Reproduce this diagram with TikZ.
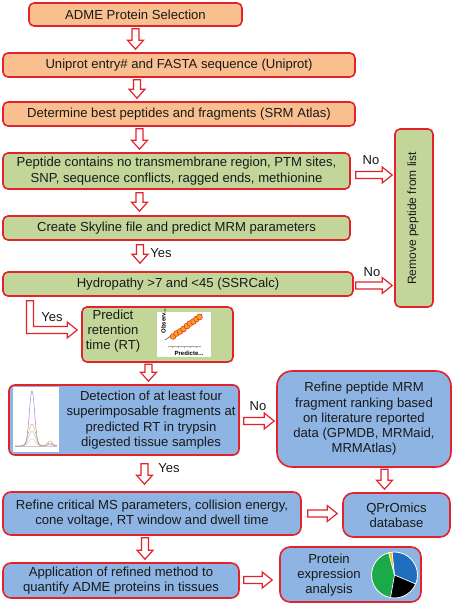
\documentclass[tikz,border=0pt]{standalone}
\usepackage{fontspec}
\setmainfont{Liberation Sans}
\usetikzlibrary{calc}
\definecolor{bred}{HTML}{E3232B}
\definecolor{borange}{HTML}{F9BF8F}
\definecolor{bgreen}{HTML}{C2D69A}
\definecolor{bblue}{HTML}{8DB4E2}
\definecolor{pieblue}{HTML}{1F6EC0}
\definecolor{piegreen}{HTML}{1AAA4A}
\definecolor{pieyellow}{HTML}{F5C518}
\definecolor{dotorange}{HTML}{F7A21B}
\tikzset{
  box/.style={draw=bred, line width=1.6pt, rounded corners=5pt, inner sep=0pt,
    font=\fontsize{13.1}{15.3}\selectfont, align=center, text=black!90},
  obox/.style={box, fill=borange},
  gbox/.style={box, fill=bgreen},
  bbox/.style={box, fill=bblue, rounded corners=8pt},
  txt/.style={font=\fontsize{13.1}{15.3}\selectfont, align=center, inner sep=0pt, text=black!90},
  lab/.style={font=\fontsize{13}{15}\selectfont, inner sep=0pt, text=black!90},
  harrow/.style={draw=bred, fill=white, line width=1.2pt, line join=miter},
  imgbox/.style={fill=white, inner sep=0pt},
}
% down block arrow: x, from node, to node, gap1, gap2
\newcommand\darrow[5]{%
  \path[harrow] let \p1=(#2.south), \p2=(#3.north), \p3=(#1,0) in
  (\x3-3.5pt,\y1-#4pt) -- (\x3+3.5pt,\y1-#4pt) -- (\x3+3.5pt,\y2+#5pt+9pt)
  -- (\x3+8pt,\y2+#5pt+9pt) -- (\x3,\y2+#5pt) -- (\x3-8pt,\y2+#5pt+9pt)
  -- (\x3-3.5pt,\y2+#5pt+9pt) -- cycle;}
% right block arrow: y, from node, to node, gap1, gap2
\newcommand\rarrow[5]{%
  \path[harrow] let \p1=(#2.east), \p2=(#3.west), \p3=(0,#1) in
  (\x1+#4pt,\y3+3.5pt) -- (\x2-#5pt-10pt,\y3+3.5pt) -- (\x2-#5pt-10pt,\y3+8pt)
  -- (\x2-#5pt,\y3) -- (\x2-#5pt-10pt,\y3-8pt) -- (\x2-#5pt-10pt,\y3-3.5pt)
  -- (\x1+#4pt,\y3-3.5pt) -- cycle;}
\begin{document}
\begin{tikzpicture}[x=1pt,y=-1pt]
\useasboundingbox[fill=white] (0,0) rectangle (452,605);

% boxes
\node[obox, minimum width=213pt, minimum height=23pt] (b1) at (135.5,14.5) {ADME Protein Selection};
\node[obox, minimum width=352pt, minimum height=24pt] (b2) at (179,65) {Uniprot entry\# and FASTA sequence (Uniprot)};
\node[obox, minimum width=352pt, minimum height=24pt] (b3) at (179,114) {Determine best peptides and fragments (SRM Atlas)};
\node[gbox, minimum width=347pt, minimum height=36pt] (b4) at (176.5,171) {Peptide contains no transmembrane region, PTM sites,\\SNP, sequence conflicts, ragged ends, methionine};
\node[gbox, minimum width=347pt, minimum height=24pt] (b5) at (176.5,228) {Create Skyline file and predict MRM parameters};
\node[gbox, minimum width=350pt, minimum height=24pt] (b6) at (178,284) {Hydropathy >7 and <45 (SSRCalc)};
\node[gbox, minimum width=38pt, minimum height=178pt] (rem) at (414,218) {};
\node[txt, rotate=90, font=\fontsize{12}{14}\selectfont] (remt) at (413,218.5) {Remove peptide from list};

\node[gbox, minimum width=151pt, minimum height=55pt] (b7) at (157.5,334.5) {};
\node[txt] (b7t) at (113,331) {Predict\\retention\\time (RT)};
\node[imgbox, minimum width=54pt, minimum height=45pt] (img1) at (184,334.5) {};
\draw[black!75, line width=0.5pt] (165,340) -- (202,314);
\foreach \px/\py in {173/336.5, 176.5/333.5, 180/331.5, 183.5/329, 187/326, 190/323.5, 193.5/321.5, 196.5/319, 199.5/317} {
  \fill[dotorange, draw=bred, line width=0.5pt] (\px,\py) circle (2.9pt);
}
\draw[gray!70, line width=0.4pt] (168,346) -- (201,346);
\foreach \tx in {172,178,184,190,196} { \draw[gray!70, line width=0.3pt] (\tx,346) -- (\tx,347.5); }
\node[rotate=90, inner sep=0pt, font=\bfseries\fontsize{6}{6}\selectfont] (obs) at (163.5,321) {Observ...};
\node[inner sep=0pt, font=\bfseries\fontsize{6}{6}\selectfont] (pred) at (189,353) {Predicte...};

\node[bbox, rounded corners=6pt, minimum width=230pt, minimum height=70pt] (b8) at (124,420) {};
\node[txt] (b8t) at (151,420) {Detection of at least four\\superimposable fragments at\\predicted RT in trypsin\\digested tissue samples};
\node[imgbox, minimum width=46pt, minimum height=65pt] (img2) at (36,419.5) {};
\draw[gray!40, line width=0.4pt] (15,446) -- (57,446);
\draw[red!25, line width=0.4pt] plot[domain=15:57, samples=70] (\x, {446 - 7*exp(-((\x-32)^2)/20)});
\draw[gray!60, line width=0.4pt] plot[domain=15:57, samples=70] (\x, {446 - 15*exp(-((\x-32)^2)/22) - 3*exp(-((\x-50)^2)/12)});
\draw[brown!45!yellow!80!gray, line width=0.4pt] plot[domain=15:57, samples=70] (\x, {446 - 22*exp(-((\x-32)^2)/24) - 5*exp(-((\x-50)^2)/14)});
\draw[blue!35!violet!50, line width=0.5pt] plot[domain=15:57, samples=90] (\x, {446 - 55*exp(-((\x-32)^2)/14) - 2*exp(-((\x-50)^2)/12)});

\node[bbox, rounded corners=15pt, minimum width=174pt, minimum height=96pt] (b9) at (364,419) {Refine peptide MRM\\fragment ranking based\\on literature reported\\data (GPMDB, MRMaid,\\MRMAtlas)};
\node[bbox, minimum width=298pt, minimum height=43pt] (b10) at (152,513.5) {Refine critical MS parameters, collision energy,\\cone voltage, RT window and dwell time};
\node[bbox, rounded corners=10pt, minimum width=107pt, minimum height=44pt] (b11) at (396.5,515) {QPrOmics\\database};
\node[bbox, minimum width=236pt, minimum height=35pt] (b12) at (121,580.5) {Application of refined method to\\quantify ADME proteins in tissues};
\node[bbox, rounded corners=10pt, minimum width=141pt, minimum height=55pt] (b13) at (350.5,574.5) {};
\node[txt] (b13t) at (329,575) {Protein\\expression\\analysis};
\begin{scope}[shift={(394.5,575)}, yscale=-1]
  \fill[pieblue] (0,0) -- (-23:23) arc[start angle=-23, end angle=96, radius=23] -- cycle;
  \fill[pieyellow] (0,0) -- (96:23) arc[start angle=96, end angle=105, radius=23] -- cycle;
  \fill[piegreen] (0,0) -- (105:23) arc[start angle=105, end angle=260, radius=23] -- cycle;
  \fill[black] (0,0) -- (260:23) arc[start angle=260, end angle=337, radius=23] -- cycle;
  \draw[white, line width=0.8pt] (0,0) circle (23);
  \foreach \a in {-23,96,105,260} { \draw[white, line width=0.7pt] (0,0) -- (\a:23); }
\end{scope}

% arrows
\darrow{135.5}{b1}{b2}{2}{3}
\darrow{137}{b2}{b3}{2}{3}
\darrow{139.5}{b3}{b4}{2}{3}
\darrow{139.5}{b4}{b5}{3}{4}
\darrow{140}{b5}{b6}{4}{8}
\darrow{148.5}{b7}{b8}{1.5}{3}
\darrow{144.5}{b8}{b10}{8}{7}
\darrow{384.5}{b9}{b11}{1.5}{3}
\darrow{145}{b10}{b12}{2}{3}
\rarrow{175}{b4}{rem}{5}{2}
\rarrow{285.5}{b6}{rem}{2}{2}
\rarrow{421}{b8}{b9}{4}{2}
\rarrow{513.5}{b10}{b11}{6}{5}
\rarrow{580}{b12}{b13}{4}{7}
% elbow arrow
\path[harrow] let \p1=(b6.south), \p2=(b7.west), \p3=(30,330) in
  (\x3-3.5pt,\y1-4pt) -- (\x3+3.5pt,\y1-4pt) -- (\x3+3.5pt,\y3+3.5pt)
  -- (\x2-14pt,\y3+3.5pt) -- (\x2-14pt,\y3+8pt) -- (\x2-4pt,\y3)
  -- (\x2-14pt,\y3-8pt) -- (\x2-14pt,\y3-3.5pt) -- (\x3-3.5pt,\y3-3.5pt) -- cycle;

% labels
\node[lab] (no1) at (371,160) {No};
\node[lab] (yes1) at (161,253) {Yes};
\node[lab] (no2) at (372,272) {No};
\node[lab] (yes2) at (52,317) {Yes};
\node[lab] (no3) at (258,406) {No};
\node[lab] (yes3) at (169,468) {Yes};
\end{tikzpicture}
\end{document}
